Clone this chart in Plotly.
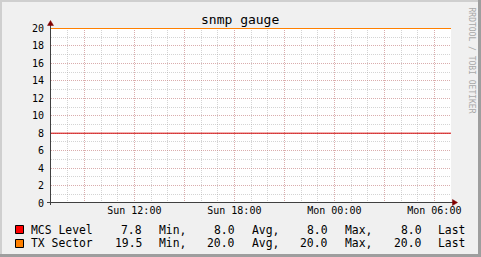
import plotly.graph_objects as go

# ---- data ----
times = [
    "2024-01-07 07:00", "2024-01-07 08:00", "2024-01-07 09:00", "2024-01-07 10:00",
    "2024-01-07 11:00", "2024-01-07 12:00", "2024-01-07 13:00", "2024-01-07 14:00",
    "2024-01-07 15:00", "2024-01-07 16:00", "2024-01-07 17:00", "2024-01-07 18:00",
    "2024-01-07 19:00", "2024-01-07 20:00", "2024-01-07 21:00", "2024-01-07 22:00",
    "2024-01-07 23:00", "2024-01-08 00:00", "2024-01-08 01:00", "2024-01-08 02:00",
    "2024-01-08 03:00", "2024-01-08 04:00", "2024-01-08 05:00", "2024-01-08 06:00",
    "2024-01-08 07:00",
]
mcs_level = [8.0] * 25
tx_sector = [20.0] * 25

series_names = ["MCS Level", "TX Sector"]
series_colors = ["#d00000", "#ff8000"]
swatch_colors = ["#ff0000", "#ff8000"]
stat_min = [7.8, 19.5]
stat_avg = [8.0, 20.0]
stat_max = [8.0, 20.0]
stat_last = [8.0, 20.0]

x_tickvals = ["2024-01-07 09:00", "2024-01-07 12:00", "2024-01-07 15:00", "2024-01-07 18:00",
              "2024-01-07 21:00", "2024-01-08 00:00", "2024-01-08 03:00", "2024-01-08 06:00"]
x_ticktext = ["", "Sun 12:00", "", "Sun 18:00", "", "Mon 00:00", "", "Mon 06:00"]
y_tickvals = [0, 2, 4, 6, 8, 10, 12, 14, 16, 18, 20]

title_text = "snmp gauge"
watermark = "RRDTOOL / TOBI OETIKER"

# ---- layout geometry (pixels) ----
W, H = 481, 257
L, T, PW, PH = 51, 28, 400, 175
MONO = "DejaVu Sans Mono"


def px(x):
    return (x - L) / PW


def py(y):
    return (T + PH - y) / PH


fig = go.Figure()
for name, vals, col in zip(series_names, [mcs_level, tx_sector], series_colors):
    fig.add_trace(go.Scatter(x=times, y=vals, mode="lines", name=name,
                             line=dict(color=col, width=1), hoverinfo="skip"))

red_grid = "rgba(230,90,90,0.32)"
gray_grid = "rgba(160,160,160,0.45)"

fig.update_layout(
    width=W, height=H,
    margin=dict(l=L, r=W - L - PW, t=T, b=H - T - PH, pad=0),
    paper_bgcolor="#f0f0f0", plot_bgcolor="#ffffff",
    showlegend=False,
    font=dict(family=MONO, size=10, color="#000000"),
    xaxis=dict(
        type="date", range=["2024-01-07 07:00", "2024-01-08 07:00"],
        tickmode="array", tickvals=x_tickvals, ticktext=x_ticktext,
        showgrid=True, gridcolor=red_grid, griddash="1px,1px", gridwidth=1,
        ticks="", showline=False, zeroline=False,
        tickfont=dict(family=MONO, size=10, color="#000000"),
        minor=dict(tickmode="linear", tick0="2024-01-07 07:00", dtick=3600000,
                   showgrid=True, gridcolor=gray_grid, griddash="1px,1px", gridwidth=1),
    ),
    yaxis=dict(
        range=[0, 20.0571], tickmode="array", tickvals=y_tickvals,
        showgrid=True, gridcolor=red_grid, griddash="1px,1px", gridwidth=1,
        ticks="", showline=False, zeroline=False, ticklabelstandoff=6,
        tickfont=dict(family=MONO, size=10, color="#000000"),
        minor=dict(tickmode="linear", tick0=0, dtick=1,
                   showgrid=True, gridcolor=gray_grid, griddash="1px,1px", gridwidth=1),
    ),
)

shapes = []
# frame
shapes.append(dict(type="rect", xref="paper", yref="paper", x0=px(0), x1=px(W), y0=py(0), y1=py(2),
                   fillcolor="#cfcfcf", line=dict(width=0), layer="above"))
shapes.append(dict(type="rect", xref="paper", yref="paper", x0=px(0), x1=px(2), y0=py(0), y1=py(H),
                   fillcolor="#cfcfcf", line=dict(width=0), layer="above"))
shapes.append(dict(type="rect", xref="paper", yref="paper", x0=px(0), x1=px(W), y0=py(H - 3), y1=py(H),
                   fillcolor="#9e9e9e", line=dict(width=0), layer="above"))
shapes.append(dict(type="rect", xref="paper", yref="paper", x0=px(W - 3), x1=px(W), y0=py(0), y1=py(H),
                   fillcolor="#9e9e9e", line=dict(width=0), layer="above"))
# axes
shapes.append(dict(type="line", xref="paper", yref="paper", x0=px(47), x1=px(454), y0=py(202.5), y1=py(202.5),
                   line=dict(color="#404040", width=1), layer="above"))
shapes.append(dict(type="line", xref="paper", yref="paper", x0=px(50.5), x1=px(50.5), y0=py(205), y1=py(24),
                   line=dict(color="#404040", width=1), layer="above"))
# arrows
shapes.append(dict(type="path", xref="paper", yref="paper",
                   path=f"M {px(50.5)} {py(20.5)} L {px(47.5)} {py(25.5)} L {px(53.5)} {py(25.5)} Z",
                   fillcolor="#800000", line=dict(color="#800000", width=0.5), layer="above"))
shapes.append(dict(type="path", xref="paper", yref="paper",
                   path=f"M {px(457.5)} {py(202.5)} L {px(452.5)} {py(199.5)} L {px(452.5)} {py(205.5)} Z",
                   fillcolor="#800000", line=dict(color="#800000", width=0.5), layer="above"))
# legend swatches
for i, col in enumerate(swatch_colors):
    y0 = 225 + 14 * i
    shapes.append(dict(type="rect", xref="paper", yref="paper", x0=px(15.5), x1=px(23.5),
                       y0=py(y0 + 8.5), y1=py(y0 + 0.5),
                       fillcolor=col, line=dict(color="#000000", width=1), layer="above"))
fig.update_layout(shapes=shapes)

ann = []
ann.append(dict(text=title_text, xref="paper", yref="paper", x=px(240), y=py(19.5),
                xanchor="center", yanchor="middle", showarrow=False,
                font=dict(family=MONO, size=13, color="#000000")))
ann.append(dict(text=watermark, xref="paper", yref="paper", x=px(471.5), y=py(5),
                xanchor="center", yanchor="top", textangle=90, showarrow=False,
                font=dict(family=MONO, size=8, color="#a8a8a8")))

LF = dict(family=MONO, size=11.4, color="#000000")
for i, name in enumerate(series_names):
    yc = py(229.5 + 14 * i)
    pieces = [
        (name, 30, "left"),
        (f"{stat_min[i]:.1f}", 143, "right"), ("Min,", 158, "left"),
        (f"{stat_avg[i]:.1f}", 236, "right"), ("Avg,", 251, "left"),
        (f"{stat_max[i]:.1f}", 329, "right"), ("Max,", 344, "left"),
        (f"{stat_last[i]:.1f}", 423, "right"), ("Last", 437, "left"),
    ]
    for txt, xx, anc in pieces:
        ann.append(dict(text=txt, xref="paper", yref="paper", x=px(xx), y=yc,
                        xanchor=anc, yanchor="middle", showarrow=False, font=LF,
                        borderpad=0))
fig.update_layout(annotations=ann)

fig.write_html("out.html")
